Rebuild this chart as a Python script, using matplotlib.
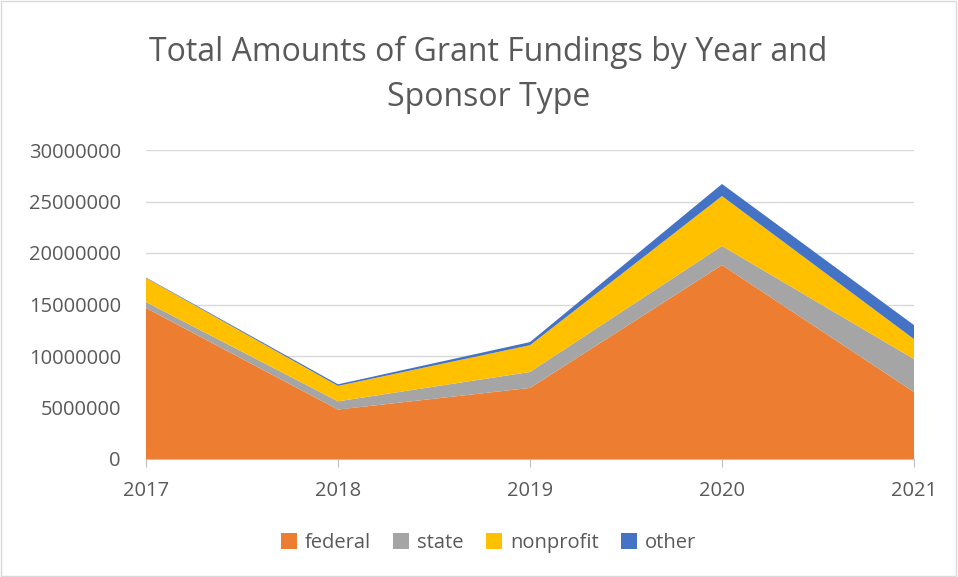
import numpy as np
import matplotlib.pyplot as plt
from matplotlib.patches import Rectangle

# Grant funding by year and sponsor type
years = [2017, 2018, 2019, 2020, 2021]
federal = [14660000, 4800000, 6900000, 18830000, 6500000]
state = [580000, 800000, 1550000, 1850000, 3200000]
nonprofit = [2330000, 1500000, 2600000, 4850000, 1940000]
other = [50000, 150000, 300000, 1170000, 1360000]

labels = ["federal", "state", "nonprofit", "other"]
colors = ["#ED7D31", "#A5A5A5", "#FFC000", "#4472C4"]

plt.rcParams['font.family'] = ['Open Sans', 'DejaVu Sans']
text_color = "#595959"

fig = plt.figure(figsize=(9.58, 5.77), dpi=100)
ax = fig.add_axes([146/958, 1 - 459/577, (914 - 146)/958, (459 - 150)/577])

ax.stackplot(years, federal, state, nonprofit, other, labels=labels, colors=colors, linewidth=0)

ax.set_xlim(2017, 2021)
ax.set_ylim(0, 30000000)
ax.set_xticks(years)
ax.set_xticklabels([str(y) for y in years])
ax.set_yticks(np.arange(0, 30000001, 5000000))
ax.set_yticklabels([str(v) for v in range(0, 30000001, 5000000)])
ax.yaxis.grid(True, color="#D9D9D9", linewidth=1)
ax.set_axisbelow(True)
for s in ["top", "right", "left"]:
    ax.spines[s].set_visible(False)
ax.spines["bottom"].set_color("#BFBFBF")
ax.tick_params(axis="y", length=0, labelsize=14.5, labelcolor=text_color, pad=18)
ax.tick_params(axis="x", length=6, color="#BFBFBF", labelsize=14.5, labelcolor=text_color, pad=10)

fig.text(0.51, 0.87, "Total Amounts of Grant Fundings by Year and\nSponsor Type",
         ha="center", va="center", fontsize=23, color=text_color, linespacing=1.5)

leg = fig.legend(loc="center", bbox_to_anchor=(0.51, 1 - 543/577), ncol=4, frameon=False,
                 fontsize=14.5, handlelength=0.8, handleheight=0.8, handletextpad=0.4, columnspacing=1.1)
for t in leg.get_texts():
    t.set_color(text_color)

fig.patches.append(Rectangle((0.001, 0.001), 0.997, 0.997, transform=fig.transFigure,
                             fill=False, edgecolor="#D9D9D9", linewidth=1))

fig.savefig("out.png", dpi=100)
